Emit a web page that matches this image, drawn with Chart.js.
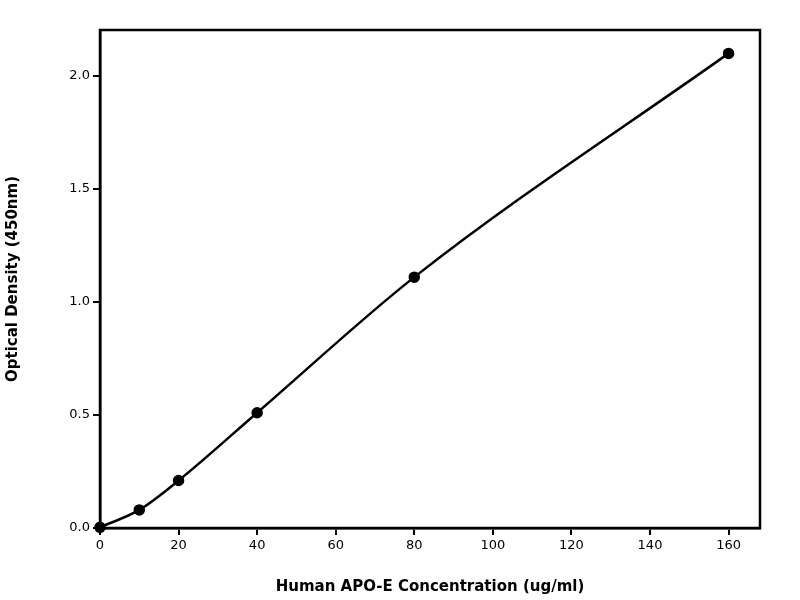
<!DOCTYPE html>
<html><head><meta charset="utf-8">
<script src="https://cdn.jsdelivr.net/npm/chart.js@4"></script>
<style>html,body{margin:0;padding:0;background:#fff}</style>
</head><body><canvas id="c" width="800" height="600"></canvas>
<script>
const concentrations = [0, 10, 20, 40, 80, 160];
const odValues = [0.003, 0.08, 0.21, 0.51, 1.11, 2.10];
const xTicks = [0,20,40,60,80,100,120,140,160];
const yTicks = [0.0,0.5,1.0,1.5,2.0];

const frame = {id:'frame', afterDraw(ch){const a=ch.chartArea,c=ch.ctx;c.save();c.lineWidth=2.5;c.strokeStyle='#000';c.strokeRect(a.left,a.top,a.right-a.left,a.bottom-a.top);c.restore();}};
Chart.defaults.font.family='"DejaVu Sans"';
new Chart(document.getElementById('c'),{
 type:'line',
 data:{datasets:[{data:concentrations.map((x,i)=>({x,y:odValues[i]})),borderColor:'#000',backgroundColor:'#000',borderWidth:2.5,pointRadius:4.5,pointHoverRadius:4.5,cubicInterpolationMode:'monotone',clip:false}]},
 options:{responsive:false,animation:false,devicePixelRatio:1,
  layout:{padding:{left:0,top:30,right:40,bottom:0}},
  plugins:{legend:{display:false},tooltip:{enabled:false}},
  scales:{
   x:{type:'linear',min:0,max:168,afterBuildTicks(s){s.ticks=xTicks.map(v=>({value:v}));},
      afterFit(s){s.height=72;},
      grid:{drawOnChartArea:false,color:'#000',lineWidth:2,tickLength:7},border:{color:'#000',width:2.5},
      ticks:{color:'#000',font:{size:13},padding:3,maxRotation:0},
      title:{display:true,text:'Human APO-E Concentration (ug/ml)',color:'#000',font:{size:15,weight:'bold'},padding:{top:2}}},
   y:{type:'linear',min:0,max:2.2035,afterBuildTicks(s){s.ticks=yTicks.map(v=>({value:v}));},
      afterFit(s){s.width=100;},
      grid:{drawOnChartArea:false,color:'#000',lineWidth:2,tickLength:7},border:{color:'#000',width:2.5},
      ticks:{color:'#000',font:{size:13},padding:3,callback:v=>v.toFixed(1)},
      title:{display:true,text:'Optical Density (450nm)',color:'#000',font:{size:15,weight:'bold'},padding:{bottom:4}}}
  }},
 plugins:[frame]
});
</script></body></html>
